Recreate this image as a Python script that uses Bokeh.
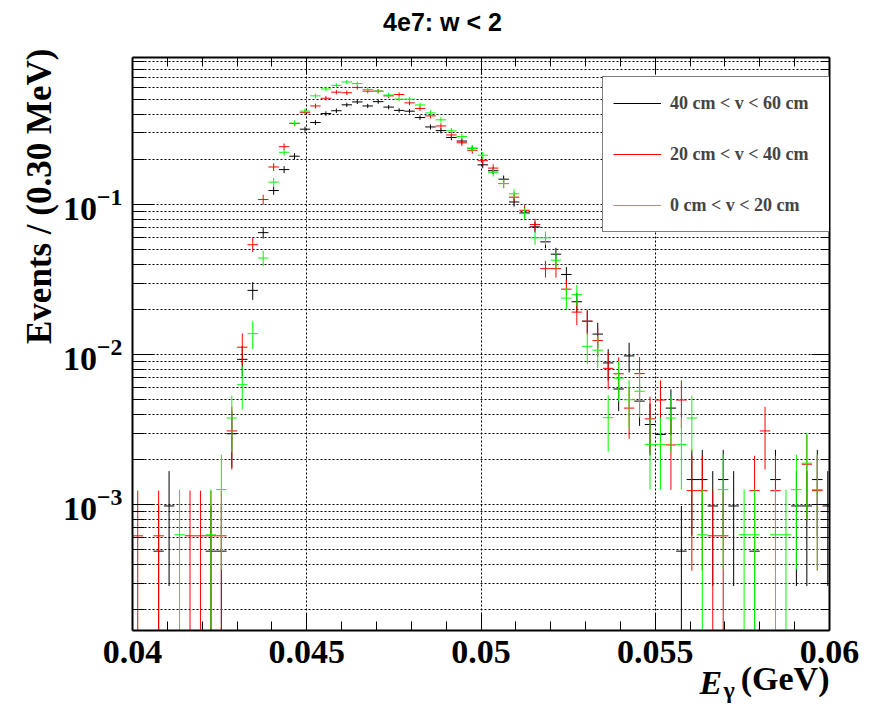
import numpy as np
from bokeh.plotting import figure
from bokeh.models import (Range1d, FixedTicker, LinearAxis, LogAxis, Label, Legend,
                          LegendItem, ColumnDataSource, CustomJSTickFormatter, Title)
from bokeh.embed import file_html
from bokeh.resources import INLINE

# ---------------- data ----------------
# histogram definition: 0.30 MeV bins starting at 0.040 GeV
hist_xmin = 0.040
bin_width = 0.0003

# bin contents (0 = empty bin)
black_vals = [0, 0, 4.9e-4, 9.8e-4, 0, 0, 0, 4.9e-4, 4.9e-4, 2.97e-3,
              9.3e-3, 0.0268, 0.065, 0.124, 0.171, 0.21, 0.318, 0.352, 0.404, 0.422,
              0.462, 0.483, 0.454, 0.485, 0.446, 0.424, 0.419, 0.38, 0.329, 0.311,
              0.28, 0.265, 0.237, 0.184, 0.168, 0.1476, 0.104, 0.088, 0.071, 0.0564,
              0.0467, 0.0342, 0.0225, 0.0167, 0.0137, 0.0088, 0.0059, 0.0098, 0.0049, 0.00342,
              0.00294, 0.0044, 4.9e-4, 1.47e-3, 1.47e-3, 9.8e-4, 1.47e-3, 9.8e-4, 0, 4.9e-4,
              0, 1.47e-3, 0, 9.8e-4, 9.8e-4, 1.47e-3, 9.8e-4]
red_vals = [6.2e-4, 0, 6.2e-4, 0, 0, 6.2e-4, 6.2e-4, 6.2e-4, 6.2e-4, 3.1e-3,
            0.0112, 0.054, 0.108, 0.178, 0.243, 0.347, 0.412, 0.454, 0.511, 0.561,
            0.556, 0.603, 0.57, 0.57, 0.53, 0.541, 0.476, 0.437, 0.39, 0.334,
            0.291, 0.258, 0.23, 0.196, 0.175, 0.138, 0.112, 0.0916, 0.0736, 0.0374,
            0.0374, 0.0273, 0.0192, 0.0167, 0.0124, 0.0081, 0.00745, 0.0044, 0.00747, 0.00373,
            0.00498, 0.0025, 0.00498, 1.24e-3, 1.24e-3, 6.2e-4, 6.2e-4, 0, 0, 1.24e-3,
            3.1e-3, 1.24e-3, 0, 0, 1.86e-3, 1.24e-3, 0]
green_vals = [0, 0, 0, 0, 6.3e-4, 0, 0, 6.3e-4, 1.26e-3, 3.78e-3,
              6.3e-3, 0.0138, 0.044, 0.141, 0.223, 0.349, 0.42, 0.53, 0.589, 0.623,
              0.656, 0.64, 0.585, 0.57, 0.537, 0.504, 0.504, 0.461, 0.408, 0.367,
              0.31, 0.284, 0.237, 0.213, 0.164, 0.138, 0.118, 0.087, 0.06, 0.06,
              0.0426, 0.0238, 0.0251, 0.01135, 0.0107, 0.0038, 0.00697, 0.005, 0.0057, 0.00252,
              0.00252, 0.00378, 0.00252, 0.00378, 6.3e-4, 0, 1.26e-3, 0, 6.3e-4, 6.3e-4,
              0, 6.3e-4, 6.3e-4, 1.26e-3, 1.89e-3, 1.26e-3, 0]

# content of a single event in each normalised histogram (for Poisson errors)
black_unit = 4.9e-4
red_unit = 6.2e-4
green_unit = 6.3e-4

series_labels = ["40 cm < v < 60 cm", "20 cm < v < 40 cm", "0 cm < v < 20 cm"]
series_colors = ["#000000", "#ff0000", "#00ff00"]

x_ticks = [0.04, 0.045, 0.05, 0.055, 0.06]
x_tick_labels = ["0.04", "0.045", "0.05", "0.055", "0.06"]
x_minor_ticks = [0.041, 0.042, 0.043, 0.044, 0.046, 0.047, 0.048, 0.049,
                 0.051, 0.052, 0.053, 0.054, 0.056, 0.057, 0.058, 0.059]
y_ticks = [1e-3, 1e-2, 1e-1]
y_minor_ticks = [m * d for d in (1e-4, 1e-3, 1e-2, 1e-1) for m in range(2, 10)]

title_text = "4e7: w < 2"
y_title = "Events / (0.30 MeV)"
x_title_main = "E"
x_title_sub = "\u03b3"
x_title_unit = "(GeV)"


def make_source(vals, unit):
    lo, hi, xc, y, ylo, yhi = [], [], [], [], [], []
    for k, v in enumerate(vals):
        if v <= 0:
            continue
        x0 = hist_xmin + k * bin_width
        err = (v * unit) ** 0.5
        lo.append(x0)
        hi.append(x0 + bin_width)
        xc.append(x0 + bin_width / 2)
        y.append(v)
        ylo.append(max(v - err, 1e-7))
        yhi.append(v + err)
    return ColumnDataSource(dict(lo=lo, hi=hi, xc=xc, y=y, ylo=ylo, yhi=yhi))


p = figure(width=879, height=704,
           x_range=Range1d(0.04, 0.06), y_range=Range1d(1.45e-4, 0.955),
           y_axis_type="log", output_backend="svg", toolbar_location=None,
           min_border_left=132, min_border_right=50, min_border_top=57,
           min_border_bottom=74)
p.background_fill_color = "white"
p.border_fill_color = "white"
p.outline_line_color = None

# grids
p.xgrid.grid_line_color = "black"
p.xgrid.grid_line_dash = "2 2"
p.xgrid.grid_line_width = 1
p.ygrid.grid_line_color = "black"
p.ygrid.grid_line_dash = "2 2"
p.ygrid.minor_grid_line_color = "black"
p.ygrid.minor_grid_line_dash = "2 2"

xt = FixedTicker(ticks=x_ticks, minor_ticks=x_minor_ticks)
yt = FixedTicker(ticks=y_ticks, minor_ticks=y_minor_ticks)

xa = p.xaxis[0]
xa.ticker = xt
xa.major_label_overrides = {t: l for t, l in zip(x_ticks, x_tick_labels)}
ya = p.yaxis[0]
ya.ticker = yt
p.xgrid.ticker = xt
p.ygrid.ticker = yt

for ax in (xa, ya):
    ax.major_label_text_font = "Liberation Serif"
    ax.major_label_text_font_style = "bold"
    ax.major_label_text_font_size = "34px"
    ax.major_label_text_color = "black"
    ax.axis_line_width = 2
    ax.major_tick_out = 0
    ax.minor_tick_out = 0
    ax.major_tick_line_color = "black"
    ax.minor_tick_line_color = "black"
xa.major_tick_in = 17
xa.minor_tick_in = 9
xa.major_label_standoff = 10
ya.major_tick_in = 22
ya.minor_tick_in = 12
ya.major_label_standoff = 10

empty = CustomJSTickFormatter(code="return ''")
top = LinearAxis(ticker=xt, formatter=empty, major_label_text_font_size="0px",
                 major_tick_in=17, major_tick_out=0, minor_tick_in=9, minor_tick_out=0,
                 axis_line_width=2, major_label_standoff=0)
right = LogAxis(ticker=yt, formatter=empty, major_label_text_font_size="0px",
                major_tick_in=18, major_tick_out=0, minor_tick_in=8, minor_tick_out=0,
                axis_line_width=2, major_label_standoff=0)
p.add_layout(top, "above")
p.add_layout(right, "right")

# data
items = []
for vals, unit, col, lab in zip((black_vals, red_vals, green_vals),
                                (black_unit, red_unit, green_unit),
                                series_colors, series_labels):
    src = make_source(vals, unit)
    rh = p.segment(x0="lo", y0="y", x1="hi", y1="y", source=src,
                   line_color=col, line_width=1)
    p.segment(x0="xc", y0="ylo", x1="xc", y1="yhi", source=src,
              line_color=col, line_width=1)
    items.append(LegendItem(label=lab, renderers=[rh]))

legend = Legend(items=items, location=(470, 398),
                label_text_font="Liberation Serif", label_text_font_style="bold",
                label_text_font_size="18px", glyph_width=48, glyph_height=20,
                label_standoff=9, label_width=180, label_height=32, spacing=19,
                padding=10, margin=0, border_line_color="black", border_line_width=1,
                background_fill_color="white", background_fill_alpha=1.0)
p.add_layout(legend)

# texts: canvas units (x from left, y from top), hosted in side panels with room to spare
p.add_layout(Label(x=442, y=21, x_units="canvas", y_units="canvas", text=title_text,
                   text_align="center", text_baseline="alphabetic",
                   text_font="Liberation Sans", text_font_style="bold",
                   text_font_size="25px", text_color="black"), "above")
p.add_layout(Label(x=39, y=48, x_units="canvas", y_units="canvas", text=y_title,
                   angle=np.pi / 2, text_align="right", text_baseline="middle",
                   text_font="Liberation Serif", text_font_style="bold",
                   text_font_size="35px", text_color="black"), "left")
p.add_layout(Label(x=699, y=682, x_units="canvas", y_units="canvas", text=x_title_main,
                   text_align="left", text_baseline="alphabetic",
                   text_font="Liberation Serif", text_font_style="bold italic",
                   text_font_size="34px", text_color="black"), "right")
p.add_layout(Label(x=723, y=689, x_units="canvas", y_units="canvas", text=x_title_sub,
                   text_align="left", text_baseline="alphabetic",
                   text_font="Liberation Serif", text_font_style="bold",
                   text_font_size="24px", text_color="black"), "right")
p.add_layout(Title(text=x_title_unit, align="right", offset=0, standoff=-16,
                   vertical_align="bottom", text_font="Liberation Serif",
                   text_font_style="bold", text_font_size="34px",
                   text_color="black"), "below")

open("out.html", "w").write(file_html(p, INLINE))
